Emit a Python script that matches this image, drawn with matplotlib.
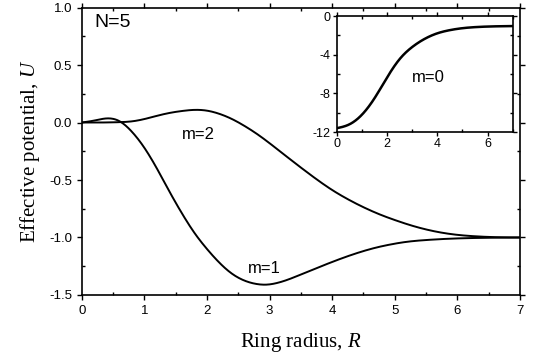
import matplotlib
matplotlib.use("Agg")
import matplotlib.pyplot as plt
import numpy as np
from matplotlib.ticker import MultipleLocator

# Effective potential U vs ring radius R, N=5
r_m1 = [0.0, 0.2, 0.42, 0.6, 0.8, 1.0, 1.2, 1.4, 1.6, 1.8, 2.0, 2.2, 2.4, 2.6,
        2.8, 2.95, 3.1, 3.3, 3.5, 3.7, 3.9, 4.1, 4.3, 4.5, 4.7, 4.9, 5.2, 5.5,
        5.9, 6.4, 7.0]
u_m1 = [0.0, 0.017, 0.036, 0.012, -0.08, -0.22, -0.40, -0.60, -0.79, -0.96, -1.10,
        -1.22, -1.315, -1.375, -1.405, -1.41, -1.398, -1.365, -1.322, -1.278,
        -1.234, -1.192, -1.153, -1.118, -1.088, -1.064, -1.037, -1.022, -1.01,
        -1.003, -1.0]

r_m2 = [0.0, 0.3, 0.6, 0.8, 1.0, 1.2, 1.4, 1.6, 1.82, 2.0, 2.2, 2.4, 2.6, 2.8,
        3.0, 3.2, 3.4, 3.6, 3.8, 4.0, 4.2, 4.4, 4.6, 4.8, 5.0, 5.25, 5.5, 5.75,
        6.0, 6.3, 6.6, 7.0]
u_m2 = [0.0, 0.0, 0.003, 0.01, 0.03, 0.058, 0.083, 0.1, 0.11, 0.103, 0.075, 0.03,
        -0.03, -0.10, -0.18, -0.265, -0.35, -0.433, -0.513, -0.587, -0.652, -0.71,
        -0.762, -0.808, -0.848, -0.893, -0.93, -0.958, -0.977, -0.99, -0.997, -1.0]

r_m0 = [0.0, 0.5, 1.0, 1.5, 2.0, 2.5, 3.0, 3.5, 4.0, 4.5, 5.0, 5.5, 6.0, 7.0]
u_m0 = [-11.6, -11.2, -10.2, -8.5, -6.35, -4.45, -3.2, -2.35, -1.78, -1.45, -1.25,
        -1.14, -1.08, -1.03]

sans = "Liberation Sans"
serif = "Liberation Serif"
plt.rcParams["font.family"] = sans
plt.rcParams["axes.unicode_minus"] = False
plt.rcParams["mathtext.fontset"] = "custom"
plt.rcParams["mathtext.rm"] = serif
plt.rcParams["mathtext.it"] = serif + ":italic"


def spline(x, y, n=500):
    # natural cubic spline through the read points, just for a smooth line
    x = np.asarray(x, float)
    y = np.asarray(y, float)
    h = np.diff(x)
    nn = len(x)
    A = np.zeros((nn, nn))
    b = np.zeros(nn)
    A[0, 0] = A[-1, -1] = 1
    for i in range(1, nn - 1):
        A[i, i - 1] = h[i - 1]
        A[i, i] = 2 * (h[i - 1] + h[i])
        A[i, i + 1] = h[i]
        b[i] = 6 * ((y[i + 1] - y[i]) / h[i] - (y[i] - y[i - 1]) / h[i - 1])
    M = np.linalg.solve(A, b)
    xs = np.linspace(x[0], x[-1], n)
    k = np.clip(np.searchsorted(x, xs) - 1, 0, nn - 2)
    a = x[k + 1] - xs
    c = xs - x[k]
    hk = h[k]
    ys = (M[k] * a**3 + M[k + 1] * c**3) / (6 * hk) \
        + (y[k] / hk - M[k] * hk / 6) * a + (y[k + 1] / hk - M[k + 1] * hk / 6) * c
    return xs, ys


fig = plt.figure(figsize=(5.38, 3.58), dpi=100)
ax = fig.add_axes([0.152, 0.176, 0.8145, 0.803])

ax.plot(*spline(r_m1, u_m1), color="black", lw=1.4)
ax.plot(*spline(r_m2, u_m2), color="black", lw=1.4)

ax.set_xlim(0, 7)
ax.set_ylim(-1.5, 1.0)
ax.xaxis.set_major_locator(MultipleLocator(1))
ax.xaxis.set_minor_locator(MultipleLocator(0.5))
ax.yaxis.set_major_locator(MultipleLocator(0.5))
ax.yaxis.set_minor_locator(MultipleLocator(0.25))
ax.yaxis.set_major_formatter(plt.FormatStrFormatter("%.1f"))
ax.tick_params(which="major", direction="out", length=3.5, width=1, labelsize=9.5,
               pad=3.5, top=True, right=True)
ax.tick_params(which="minor", direction="in", length=2.5, width=1, top=True, right=True)
for s in ax.spines.values():
    s.set_linewidth(1.2)

ax.set_xlabel("Ring radius, $\\mathit{R}$", fontsize=15, family=serif, labelpad=10)
ax.set_ylabel("Effective potential, $\\mathit{U}$", fontsize=15, family=serif, labelpad=5)

ax.text(0.2, 0.87, "N=5", fontsize=14, ha="left", va="center")
ax.text(1.6, -0.1, "m=2", fontsize=12, ha="left", va="center")
ax.text(2.65, -1.27, "m=1", fontsize=12, ha="left", va="center")

ins = fig.add_axes([0.626, 0.631, 0.327, 0.324])
ins.plot(*spline(r_m0, u_m0), color="black", lw=1.8)
ins.set_xlim(0, 7)
ins.set_ylim(-12, 0)
ins.xaxis.set_major_locator(MultipleLocator(2))
ins.xaxis.set_minor_locator(MultipleLocator(1))
ins.yaxis.set_major_locator(MultipleLocator(4))
ins.yaxis.set_minor_locator(MultipleLocator(2))
ins.tick_params(which="major", direction="out", length=3, width=1, labelsize=9,
                pad=1.5, top=True, right=True)
ins.tick_params(which="minor", direction="in", length=2, width=1, top=True, right=True)
for s in ins.spines.values():
    s.set_linewidth(1.2)
ins.text(3.0, -6.4, "m=0", fontsize=12, ha="left", va="center")

fig.savefig("out.png", dpi=100)
